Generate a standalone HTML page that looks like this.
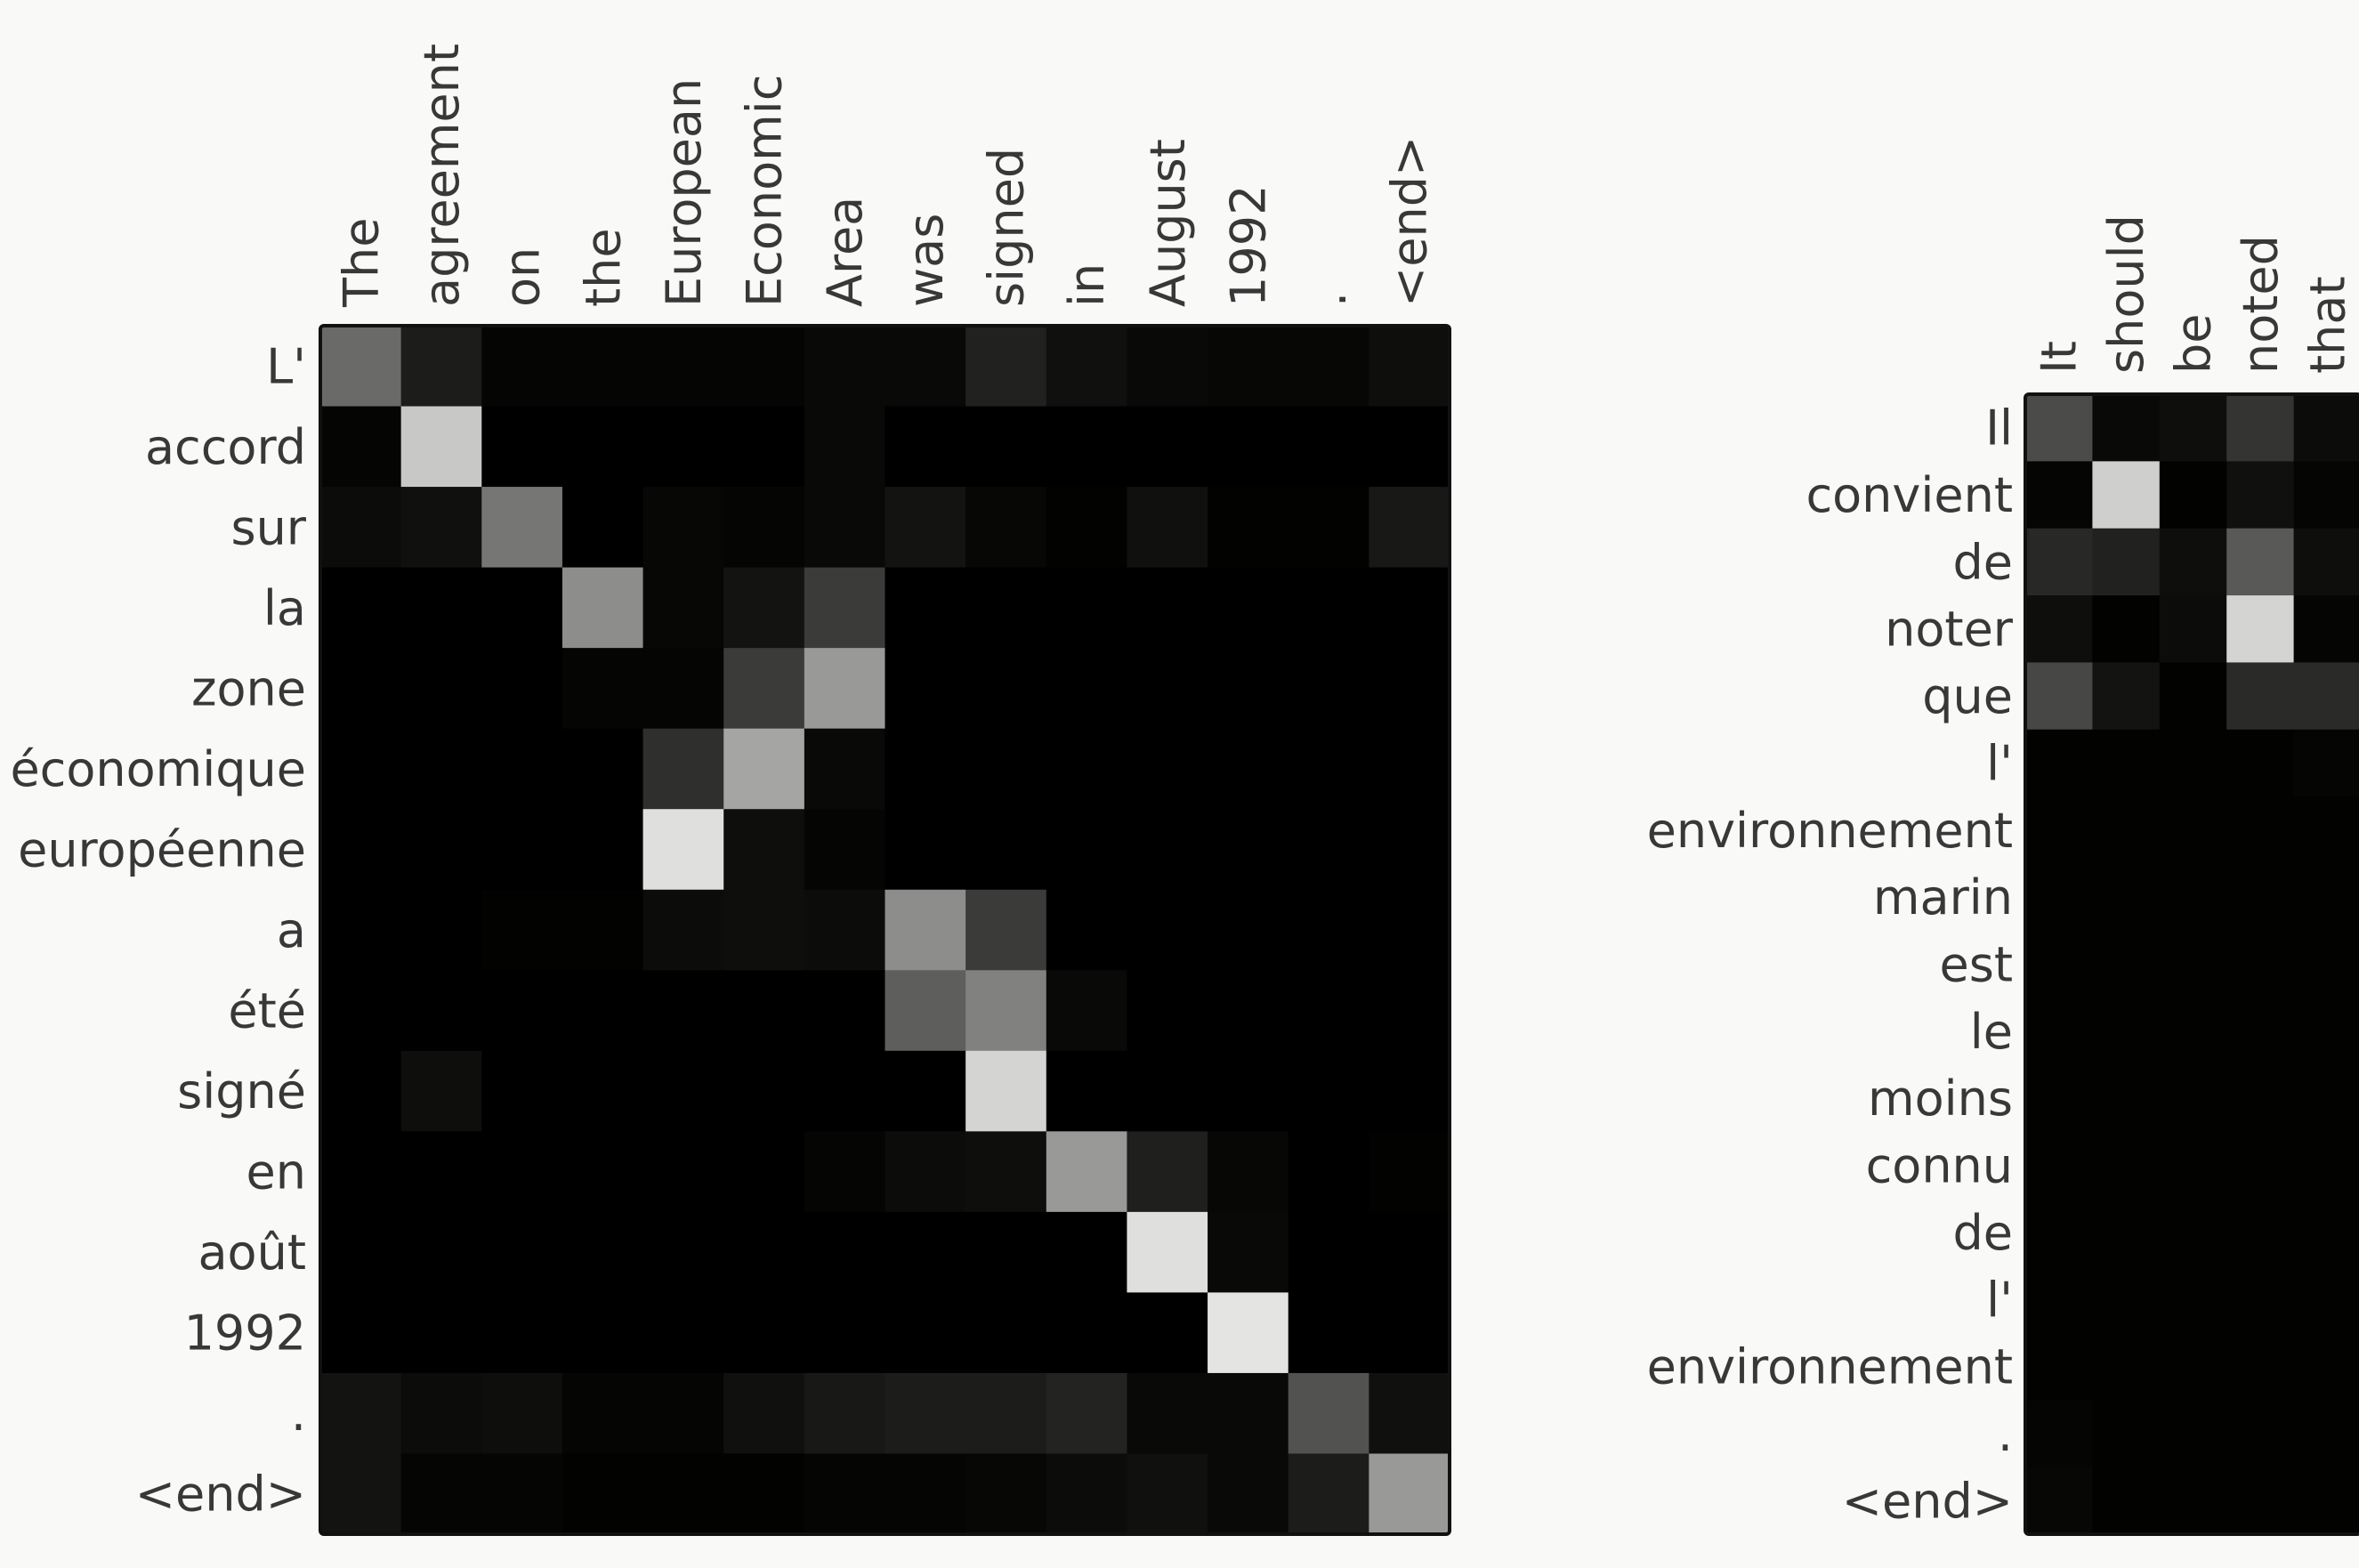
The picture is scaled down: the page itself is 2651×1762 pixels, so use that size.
<!DOCTYPE html>
<html><head><meta charset="utf-8"><style>
html,body{margin:0;padding:0;background:#f9f9f8;}
svg{display:block;}
text{font-family:"DejaVu Sans","Liberation Sans",sans-serif;font-size:54px;fill:#383838;}
</style></head><body>
<svg id="chart" width="2651" height="1762" viewBox="0 0 2651 1762">
<rect x="0" y="0" width="2651" height="1762" fill="#f9f9f8"></rect>
</svg>
<script>
const leftCols = ["The","agreement","on","the","European","Economic","Area","was","signed","in","August","1992",".","<end>"];
const leftRows = ["L'","accord","sur","la","zone","économique","européenne","a","été","signé","en","août","1992",".","<end>"];
const leftVals = [
 [0.45,0.12,0.02,0.02,0.02,0.02,0.04,0.04,0.14,0.07,0.04,0.03,0.03,0.06],
 [0.02,0.85,0.00,0.00,0.00,0.00,0.04,0.00,0.00,0.00,0.00,0.00,0.00,0.00],
 [0.05,0.07,0.50,0.00,0.03,0.02,0.04,0.08,0.03,0.01,0.07,0.01,0.01,0.10],
 [0.00,0.00,0.00,0.60,0.03,0.08,0.25,0.00,0.00,0.00,0.00,0.00,0.00,0.00],
 [0.00,0.00,0.00,0.02,0.02,0.25,0.65,0.00,0.00,0.00,0.00,0.00,0.00,0.00],
 [0.00,0.00,0.00,0.00,0.20,0.70,0.04,0.00,0.00,0.00,0.00,0.00,0.00,0.00],
 [0.00,0.00,0.00,0.00,0.95,0.06,0.02,0.00,0.00,0.00,0.00,0.00,0.00,0.00],
 [0.00,0.00,0.01,0.01,0.05,0.06,0.05,0.60,0.25,0.00,0.00,0.00,0.00,0.00],
 [0.00,0.00,0.00,0.00,0.00,0.00,0.00,0.40,0.55,0.04,0.00,0.00,0.00,0.00],
 [0.00,0.06,0.00,0.00,0.00,0.00,0.00,0.00,0.90,0.00,0.00,0.00,0.00,0.00],
 [0.00,0.00,0.00,0.00,0.00,0.00,0.02,0.05,0.06,0.65,0.13,0.03,0.00,0.01],
 [0.00,0.00,0.00,0.00,0.00,0.00,0.00,0.00,0.00,0.00,0.95,0.04,0.00,0.00],
 [0.00,0.00,0.00,0.00,0.00,0.00,0.00,0.00,0.00,0.00,0.00,0.97,0.00,0.00],
 [0.08,0.05,0.06,0.02,0.02,0.07,0.10,0.12,0.12,0.15,0.04,0.04,0.35,0.07],
 [0.08,0.02,0.02,0.01,0.01,0.01,0.02,0.02,0.03,0.05,0.07,0.04,0.12,0.65]
];
const rightCols = ["It","should","be","noted","that"];
const rightRows = ["Il","convient","de","noter","que","l'","environnement","marin","est","le","moins","connu","de","l'","environnement",".","<end>"];
const rightVals = [
 [0.32,0.04,0.06,0.22,0.05],
 [0.02,0.88,0.01,0.07,0.02],
 [0.17,0.14,0.06,0.38,0.06],
 [0.06,0.01,0.05,0.90,0.02],
 [0.30,0.08,0.01,0.18,0.18],
 [0.01,0.01,0.01,0.01,0.02],
 [0.01,0.01,0.01,0.01,0.01],
 [0.01,0.01,0.01,0.01,0.01],
 [0.01,0.01,0.01,0.01,0.01],
 [0.01,0.01,0.01,0.01,0.01],
 [0.01,0.01,0.01,0.01,0.01],
 [0.01,0.01,0.01,0.01,0.01],
 [0.01,0.01,0.01,0.01,0.01],
 [0.01,0.01,0.01,0.01,0.01],
 [0.01,0.01,0.01,0.01,0.01],
 [0.02,0.01,0.01,0.01,0.01],
 [0.03,0.01,0.01,0.01,0.01]
];

const NS = "http://www.w3.org/2000/svg";
const svg = document.getElementById("chart");
function mk(tag, attrs, parent){
  const e = document.createElementNS(NS, tag);
  for (const k in attrs) e.setAttribute(k, attrs[k]);
  (parent||svg).appendChild(e);
  return e;
}
function gray(v){ const c = Math.round(Math.max(0,Math.min(1,v))*235); return "rgb("+c+","+c+","+(c-1<0?0:c-1)+")"; }

function drawMap(prefix, x0, y0, cw, ch, cols, rows, vals, colLabelBottom, rowLabelRight){
  const g = mk("g", {});
  
  
  const xs = i => x0 + i*cw;
  const ys = j => y0 + j*ch;
  mk("rect",{x:x0,y:y0,width:cw*cols.length,height:ch*rows.length,fill:"#000"},g);
  for (let r=0;r<rows.length;r++){
    for (let c=0;c<cols.length;c++){
      const cell = mk("rect",{x:xs(c),y:ys(r),width:cw+0.5,height:ch+0.5,fill:gray(vals[r][c])},g);
      
      
    }
  }
  const border = mk("rect",{x:x0,y:y0,width:cw*cols.length,height:ch*rows.length,fill:"none",stroke:"#111",
    "stroke-width":4,rx:4},g);
  
  
  cols.forEach((lab,i)=>{
    const cx = xs(i)+cw/2;
    const t = mk("text",{x:0,y:0,transform:"translate("+(cx+19)+","+colLabelBottom+") rotate(-90)","text-anchor":"start"},g);
    t.textContent = lab;
    
    
  });
  rows.forEach((lab,j)=>{
    const cy = ys(j)+ch/2;
    const t = mk("text",{x:rowLabelRight,y:cy+19,"text-anchor":"end"},g);
    t.textContent = lab;
    
    
  });
}
drawMap("left", 360, 366, (1629-360)/14, (1724-366)/15, leftCols, leftRows, leftVals, 345, 344);
drawMap("right", 2276, 443, 75.4, (1724-443)/17, rightCols, rightRows, rightVals, 420, 2262);
</script>
</body></html>
